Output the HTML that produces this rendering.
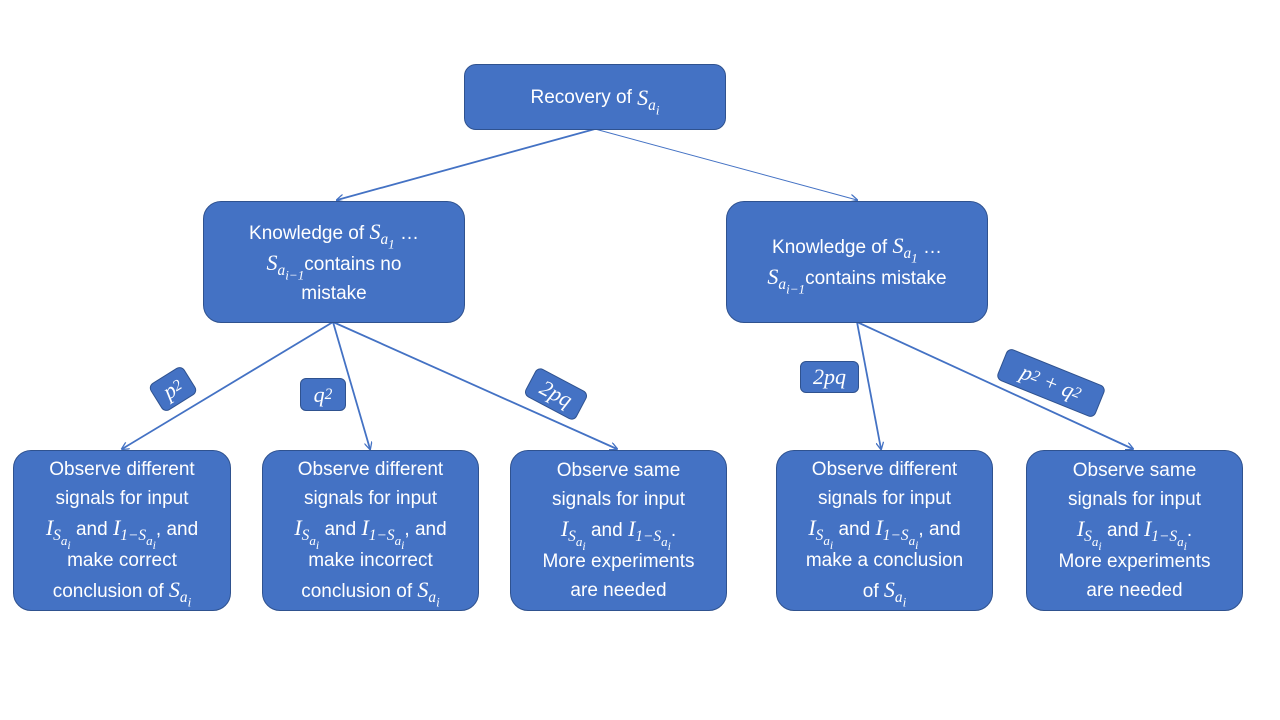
<!DOCTYPE html>
<html><head><meta charset="utf-8"><style>
body{margin:0;width:1280px;height:720px;background:#fff;position:relative;overflow:hidden;font-family:"Liberation Sans",sans-serif;}
.b{position:absolute;background:#4472C4;border:1.5px solid #2F528F;border-radius:18px;color:#fff;display:flex;align-items:center;justify-content:center;text-align:center;font-size:19px;line-height:29px;box-sizing:border-box;}
.m{font-family:"Liberation Serif",serif;font-style:italic;font-size:22px;}
sub{font-size:70%;vertical-align:-0.35em;line-height:0;}
sub sub{font-size:85%;}
sub sub sub{font-size:90%;}
sup{font-size:70%;vertical-align:0.55em;line-height:0;}
.l{position:absolute;background:#4472C4;border:1.5px solid #2F528F;border-radius:6px;color:#fff;font-family:"Liberation Serif",serif;font-style:italic;font-size:22px;display:flex;align-items:center;justify-content:center;box-sizing:border-box;}
svg{position:absolute;left:0;top:0;}
</style></head><body>
<svg width="1280" height="720">
<defs><marker id="a" markerWidth="8" markerHeight="8" refX="7" refY="4" orient="auto" markerUnits="userSpaceOnUse"><path d="M0,0 L8,4 L0,8" fill="none" stroke="#4472C4" stroke-width="1.3"/></marker></defs>
<g stroke="#4472C4" stroke-width="1.8" fill="none">
<line x1="595" y1="129" x2="337" y2="200" marker-end="url(#a)"/>
<line x1="595" y1="129" x2="857" y2="200" stroke-width="1" marker-end="url(#a)"/>
<line x1="333" y1="322" x2="122" y2="449" marker-end="url(#a)"/>
<line x1="333" y1="322" x2="370" y2="449" marker-end="url(#a)"/>
<line x1="333" y1="322" x2="617" y2="449" marker-end="url(#a)"/>
<line x1="857" y1="322" x2="881" y2="449" marker-end="url(#a)"/>
<line x1="857" y1="322" x2="1133" y2="449" marker-end="url(#a)"/>
</g></svg>
<div class="b" style="left:464px;top:64px;width:262px;height:66px;border-radius:12px;">Recovery of&nbsp;<span class="m">S<sub>a<sub>i</sub></sub></span></div>
<div class="b" style="left:203px;top:201px;width:262px;height:122px;"><div>Knowledge of <span class="m">S<sub>a<sub>1</sub></sub></span> …<br><span class="m">S<sub>a<sub>i−1</sub></sub></span>contains no<br>mistake</div></div>
<div class="b" style="left:726px;top:201px;width:262px;height:122px;"><div>Knowledge of <span class="m">S<sub>a<sub>1</sub></sub></span> …<br><span class="m">S<sub>a<sub>i−1</sub></sub></span>contains mistake</div></div>
<div class="b" style="left:13px;top:450px;width:218px;height:161px;"><div>Observe different<br>signals for input<br><span class="m">I<sub>S<sub>a<sub>i</sub></sub></sub></span> and <span class="m">I<sub>1−S<sub>a<sub>i</sub></sub></sub></span>, and<br>make correct<br>conclusion of <span class="m">S<sub>a<sub>i</sub></sub></span></div></div>
<div class="b" style="left:262px;top:450px;width:217px;height:161px;"><div>Observe different<br>signals for input<br><span class="m">I<sub>S<sub>a<sub>i</sub></sub></sub></span> and <span class="m">I<sub>1−S<sub>a<sub>i</sub></sub></sub></span>, and<br>make incorrect<br>conclusion of <span class="m">S<sub>a<sub>i</sub></sub></span></div></div>
<div class="b" style="left:510px;top:450px;width:217px;height:161px;"><div>Observe same<br>signals for input<br><span class="m">I<sub>S<sub>a<sub>i</sub></sub></sub></span> and <span class="m">I<sub>1−S<sub>a<sub>i</sub></sub></sub></span>.<br>More experiments<br>are needed</div></div>
<div class="b" style="left:776px;top:450px;width:217px;height:161px;"><div>Observe different<br>signals for input<br><span class="m">I<sub>S<sub>a<sub>i</sub></sub></sub></span> and <span class="m">I<sub>1−S<sub>a<sub>i</sub></sub></sub></span>, and<br>make a conclusion<br>of <span class="m">S<sub>a<sub>i</sub></sub></span></div></div>
<div class="b" style="left:1026px;top:450px;width:217px;height:161px;"><div>Observe same<br>signals for input<br><span class="m">I<sub>S<sub>a<sub>i</sub></sub></sub></span> and <span class="m">I<sub>1−S<sub>a<sub>i</sub></sub></sub></span>.<br>More experiments<br>are needed</div></div>
<div class="l" style="left:153px;top:373px;width:40px;height:32px;transform:rotate(-32deg);">p<sup>2</sup></div>
<div class="l" style="left:300px;top:378px;width:46px;height:33px;">q<sup>2</sup></div>
<div class="l" style="left:527px;top:378px;width:58px;height:32px;transform:rotate(28deg);">2pq</div>
<div class="l" style="left:800px;top:361px;width:59px;height:32px;">2pq</div>
<div class="l" style="left:998px;top:366px;width:106px;height:34px;transform:rotate(22deg);">p<sup>2</sup>&nbsp;+&nbsp;q<sup>2</sup></div>
</body></html>
